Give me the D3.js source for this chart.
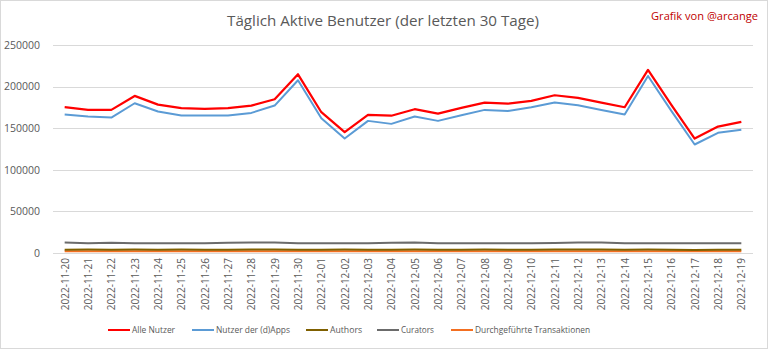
<!DOCTYPE html>
<html><head><meta charset="utf-8">
<script src="https://cdn.jsdelivr.net/npm/d3@7"></script>
<style>
body{margin:0;background:#fff;}
svg{display:block;font-family:"Open Sans","Liberation Sans",sans-serif;}
</style></head>
<body>
<svg id="c" width="768" height="349"></svg>
<script>
const dates = ["2022-11-20","2022-11-21","2022-11-22","2022-11-23","2022-11-24","2022-11-25","2022-11-26","2022-11-27","2022-11-28","2022-11-29","2022-11-30","2022-12-01","2022-12-02","2022-12-03","2022-12-04","2022-12-05","2022-12-06","2022-12-07","2022-12-08","2022-12-09","2022-12-10","2022-12-11","2022-12-12","2022-12-13","2022-12-14","2022-12-15","2022-12-16","2022-12-17","2022-12-18","2022-12-19"];
const alleNutzer = [175200,172000,172000,188800,178400,174000,173200,174000,177200,184800,214800,169200,145200,166000,165000,172800,167600,174400,180800,179600,182800,189600,186400,180800,175200,220000,178000,137600,152000,157600];
const dappsNutzer = [166400,164000,162800,180000,170000,165200,165200,165200,168400,177200,207600,162000,137600,158800,155200,164000,158800,165600,172000,170800,175200,180800,177600,172000,166400,212800,170800,130400,144400,148000];
const authors = [3800,4200,4000,4100,4000,4200,3800,3900,4100,4200,4000,4000,4100,4000,3900,4100,4000,4000,4100,4000,3800,4100,4200,4100,4000,4100,4000,3700,3800,3800];
const curators = [12500,11600,12400,11600,11600,11600,11600,12300,12600,12500,11600,11600,11600,11600,12400,12700,11600,11600,11600,11600,11600,12000,12600,12600,11600,11600,11600,11600,11600,11600];
const transaktionen = [2000,2100,2000,2000,2000,2100,2000,2000,2000,2000,2000,2000,2000,2000,2000,2000,2000,2000,2000,2000,2000,2000,2000,2000,2000,2000,2000,2000,2000,2000];
const yTicks = [0,50000,100000,150000,200000,250000];
const seriesNames = ["Alle Nutzer","Nutzer der (d)Apps","Authors","Curators","Durchgeführte Transaktionen"];
const seriesData = [alleNutzer, dappsNutzer, authors, curators, transaktionen];
const seriesColors = ["#ff0000","#5b9bd5","#7f6000","#6b6b6b","#f36f21"];
const seriesWidths = [2.25,2,2,2,2];
const title = "Täglich Aktive Benutzer (der letzten 30 Tage)";
const credit = "Grafik von @arcange";

const svg = d3.select("#c");
svg.append("rect").attr("x",0.5).attr("y",0.5).attr("width",767).attr("height",348)
  .attr("fill","#fff").attr("stroke","#d9d9d9");

const L=53, R=753, T=45, B=253;
const x = d3.scalePoint().domain(dates).range([L,R]).padding(0.5);
const y = d3.scaleLinear().domain([0,250000]).range([B,T]);

function fit(sel, w){
  const n = sel.node(); let fs = parseFloat(sel.attr("font-size"));
  for(let i=0;i<3;i++){ const cw=n.getComputedTextLength(); fs = fs*w/cw; sel.attr("font-size",fs); }
}

// gridlines
svg.append("g").selectAll("line").data(yTicks).join("line")
  .attr("x1",L).attr("x2",R).attr("y1",d=>Math.round(y(d))+0.5).attr("y2",d=>Math.round(y(d))+0.5)
  .attr("stroke","#d9d9d9").attr("stroke-width",1);

// y axis
const ya = svg.append("g").attr("transform",`translate(${L-10},0)`)
  .call(d3.axisLeft(y).tickValues(yTicks).tickSize(0).tickFormat(d3.format("d")));
ya.select(".domain").remove();
ya.selectAll("text").attr("fill","#595959").attr("font-size",10.5).attr("font-family","Open Sans, sans-serif");

// x axis
const xa = svg.append("g").attr("transform",`translate(0,${B})`)
  .call(d3.axisBottom(x).tickSize(0));
xa.select(".domain").remove();
xa.selectAll("text").attr("fill","#595959").attr("font-size",10).attr("font-family","Open Sans, sans-serif")
  .attr("transform","rotate(-90)").attr("text-anchor","end").attr("dy","0.35em").attr("x",-5).attr("y",0);

// lines
const line = d3.line().x((d,i)=>x(dates[i])).y(d=>y(d));
const order = [4,3,2,1,0];
svg.append("g").selectAll("path").data(order).join("path")
  .attr("d",i=>line(seriesData[i])).attr("fill","none")
  .attr("stroke",i=>seriesColors[i]).attr("stroke-width",i=>seriesWidths[i]).attr("stroke-linejoin","round");

// title
const t = svg.append("text").attr("x",383).attr("y",26).attr("text-anchor","middle")
  .attr("fill","#595959").attr("font-size",15).text(title);
fit(t,312);
const cr = svg.append("text").attr("x",758).attr("y",20).attr("text-anchor","end")
  .attr("fill","#c00000").attr("font-size",10.5).text(credit);
fit(cr,107);

// legend
const legX = [108,192,306,377,451];
const legW = [43,74,32,33,115];
const lg = svg.append("g").selectAll("g").data(seriesNames).join("g")
  .attr("transform",(d,i)=>`translate(${legX[i]},330)`);
lg.append("line").attr("x1",0).attr("x2",22).attr("y1",0).attr("y2",0)
  .attr("stroke",(d,i)=>seriesColors[i]).attr("stroke-width",2);
lg.append("text").attr("x",24).attr("y",0).attr("dy","0.35em").attr("fill","#595959")
  .attr("font-size",10).text(d=>d)
  .each(function(d,i){ fit(d3.select(this), legW[i]); });
</script>
</body></html>
